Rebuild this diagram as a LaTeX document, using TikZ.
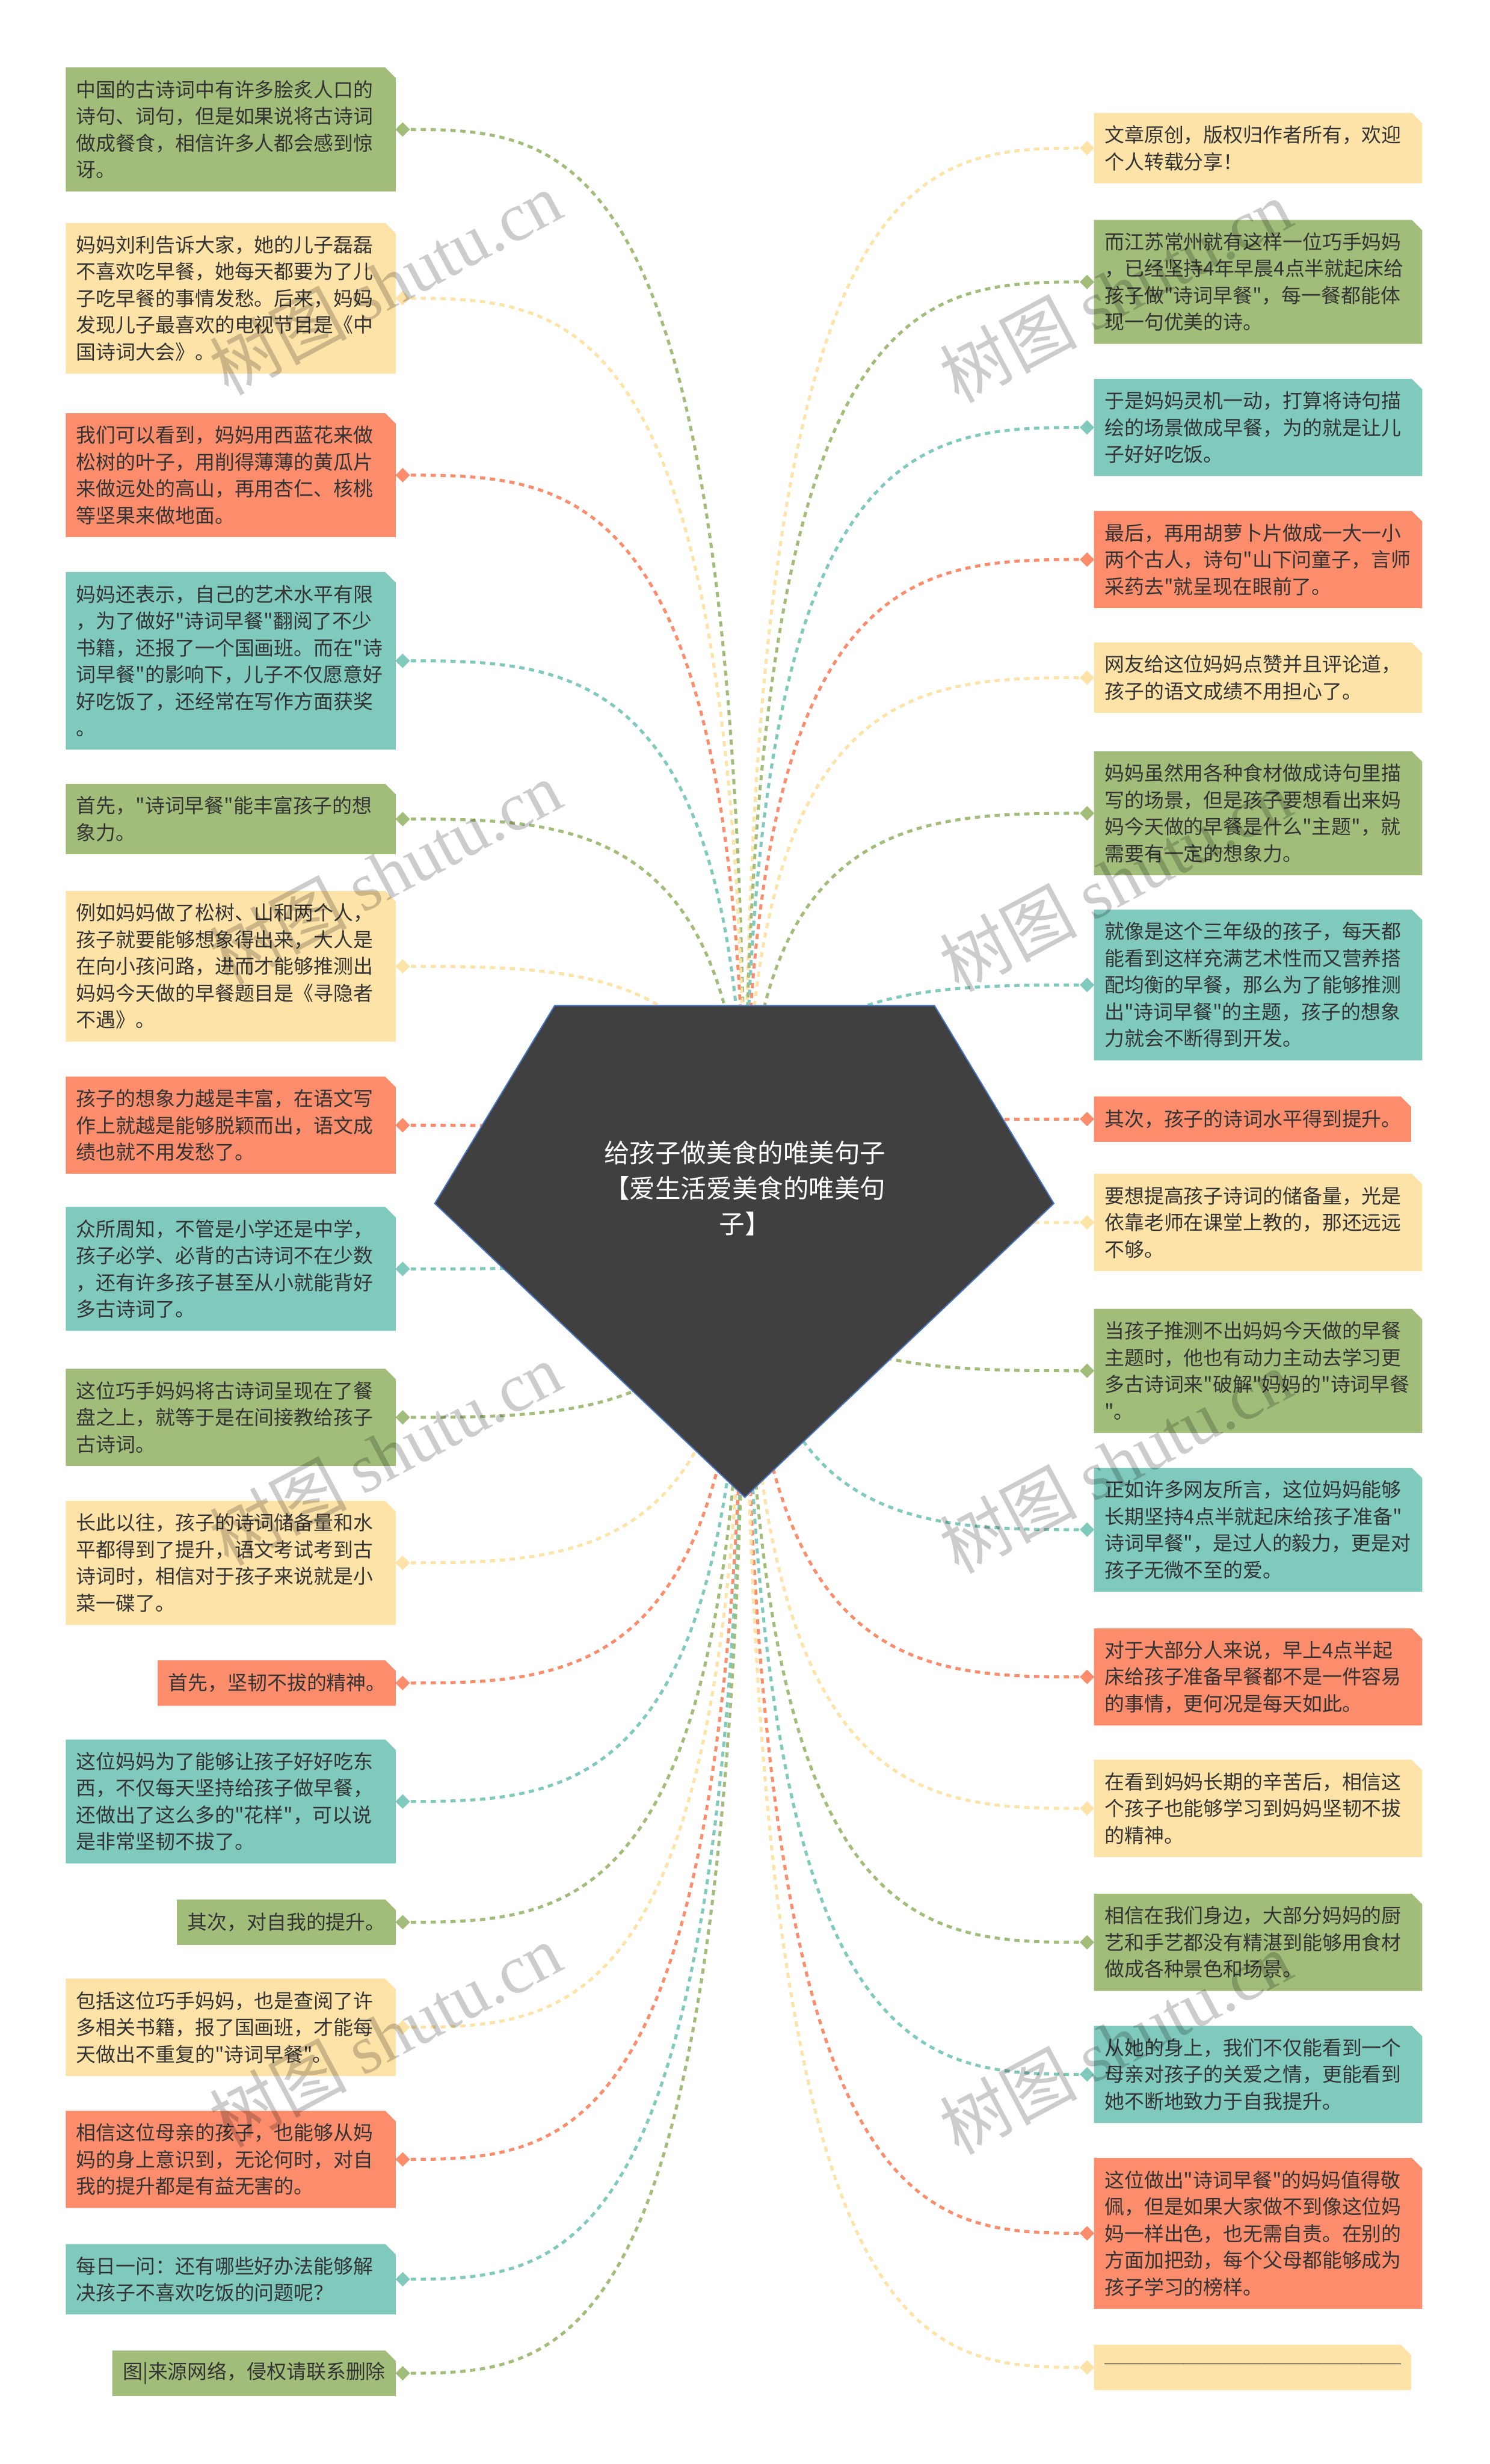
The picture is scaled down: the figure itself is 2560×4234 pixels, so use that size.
\documentclass[tikz,border=0pt]{standalone}
\usepackage{fontspec}
\setmainfont{Noto Sans CJK SC}
\newfontfamily\cjk{Noto Sans CJK SC}
\newfontfamily\wmlatin{Liberation Serif}
\usetikzlibrary{shapes.geometric,calc}
\definecolor{cG}{HTML}{A2BD7A}
\definecolor{cY}{HTML}{FEE3A8}
\definecolor{cO}{HTML}{FB8D6D}
\definecolor{cT}{HTML}{7FCABD}
\definecolor{txt}{HTML}{333333}
\definecolor{pent}{HTML}{404040}
\definecolor{pentline}{HTML}{4A78C8}
\pgfdeclarelayer{back}
\pgfdeclarelayer{bg}
\pgfsetlayers{back,bg,main}
\tikzset{
  boxtext/.style={font=\cjk\fontsize{34}{46}\selectfont, text=txt, align=left, inner sep=0pt, text width=580pt},
  dmd/.style={diamond, minimum width=25pt, minimum height=25pt, inner sep=0pt, draw=none},
  conn/.style={line width=5.2pt, dash pattern=on 9pt off 8pt, dash phase=3pt},
  titletext/.style={font=\cjk\fontsize{44}{61}\selectfont, text=white, align=center, inner sep=0pt},
  wm/.style={font=\cjk\fontsize{118}{118}\selectfont, text=black, text opacity=0.2, inner sep=0pt, rotate=28}
}
% left box: name, x, top, w, h, colour, text
\newcommand\LB[7]{%
  \fill[#6] (#2,#3) -- ({#2+#4-18},#3) -- ({#2+#4},{#3+18}) -- ({#2+#4},{#3+#5}) -- (#2,{#3+#5}) -- cycle;
  \node[boxtext, anchor=west] (#1) at ({#2+18},{#3+#5/2}) {#7};
  \node[dmd, fill=#6] (#1d) at ({#2+#4+12},{#3+#5/2}) {};
  \begin{pgfonlayer}{bg}
  \draw[conn, draw=#6] (#1d.center) .. controls ($(#1d.center)!0.5!(ctr |- #1d.center)$) and (ctr |- #1d.center) .. (ctr);
  \end{pgfonlayer}
}
% right box: name, x, top, w, h, colour, text
\newcommand\RB[7]{%
  \fill[#6] (#2,#3) -- ({#2+#4-18},#3) -- ({#2+#4},{#3+18}) -- ({#2+#4},{#3+#5}) -- (#2,{#3+#5}) -- cycle;
  \node[boxtext, anchor=west] (#1) at ({#2+18},{#3+#5/2}) {#7};
  \node[dmd, fill=#6] (#1d) at ({#2-12},{#3+#5/2}) {};
  \begin{pgfonlayer}{bg}
  \draw[conn, draw=#6] (#1d.center) .. controls ($(#1d.center)!0.5!(ctr |- #1d.center)$) and (ctr |- #1d.center) .. (ctr);
  \end{pgfonlayer}
}
\begin{document}
\begin{tikzpicture}[x=1pt,y=-1pt]
\begin{pgfonlayer}{back}
\fill[white] (0,0) rectangle (2560,4234);
\end{pgfonlayer}
\useasboundingbox (0,0) rectangle (2560,4234);
\coordinate (ctr) at (1280,2050);

% central pentagon
\fill[pent, draw=pentline, line width=2pt] (953,1728) -- (1606,1728) -- (1811,2068) -- (1280,2573) -- (747,2068) -- cycle;
\node[titletext] (root) at (1280,2042) {给孩子做美食的唯美句子\\【爱生活爱美食的唯美句\\子】};

% left column
\LB{L1}{113}{116}{567}{213}{cG}{中国的古诗词中有许多脍炙人口的\\诗句、词句，但是如果说将古诗词\\做成餐食，相信许多人都会感到惊\\讶。}
\LB{L2}{113}{383}{567}{259}{cY}{妈妈刘利告诉大家，她的儿子磊磊\\不喜欢吃早餐，她每天都要为了儿\\子吃早餐的事情发愁。后来，妈妈\\发现儿子最喜欢的电视节目是《中\\国诗词大会》。}
\LB{L3}{113}{710}{567}{213}{cO}{我们可以看到，妈妈用西蓝花来做\\松树的叶子，用削得薄薄的黄瓜片\\来做远处的高山，再用杏仁、核桃\\等坚果来做地面。}
\LB{L4}{113}{983}{567}{305}{cT}{妈妈还表示，自己的艺术水平有限\\，为了做好"诗词早餐"翻阅了不少\\书籍，还报了一个国画班。而在"诗\\词早餐"的影响下，儿子不仅愿意好\\好吃饭了，还经常在写作方面获奖\\。}
\LB{L5}{113}{1347}{567}{121}{cG}{首先，"诗词早餐"能丰富孩子的想\\象力。}
\LB{L6}{113}{1531}{567}{259}{cY}{例如妈妈做了松树、山和两个人，\\孩子就要能够想象得出来，大人是\\在向小孩问路，进而才能够推测出\\妈妈今天做的早餐题目是《寻隐者\\不遇》。}
\LB{L7}{113}{1850}{567}{167}{cO}{孩子的想象力越是丰富，在语文写\\作上就越是能够脱颖而出，语文成\\绩也就不用发愁了。}
\LB{L8}{113}{2074}{567}{213}{cT}{众所周知，不管是小学还是中学，\\孩子必学、必背的古诗词不在少数\\，还有许多孩子甚至从小就能背好\\多古诗词了。}
\LB{L9}{113}{2352}{567}{167}{cG}{这位巧手妈妈将古诗词呈现在了餐\\盘之上，就等于是在间接教给孩子\\古诗词。}
\LB{L10}{113}{2579}{567}{213}{cY}{长此以往，孩子的诗词储备量和水\\平都得到了提升，语文考试考到古\\诗词时，相信对于孩子来说就是小\\菜一碟了。}
\LB{L11}{271}{2853}{409}{78}{cO}{首先，坚韧不拔的精神。}
\LB{L12}{113}{2989}{567}{213}{cT}{这位妈妈为了能够让孩子好好吃东\\西，不仅每天坚持给孩子做早餐，\\还做出了这么多的"花样"，可以说\\是非常坚韧不拔了。}
\LB{L13}{304}{3264}{376}{78}{cG}{其次，对自我的提升。}
\LB{L14}{113}{3400}{567}{167}{cY}{包括这位巧手妈妈，也是查阅了许\\多相关书籍，报了国画班，才能每\\天做出不重复的"诗词早餐"。}
\LB{L15}{113}{3627}{567}{167}{cO}{相信这位母亲的孩子，也能够从妈\\妈的身上意识到，无论何时，对自\\我的提升都是有益无害的。}
\LB{L16}{113}{3856}{567}{121}{cT}{每日一问：还有哪些好办法能够解\\决孩子不喜欢吃饭的问题呢？}
\LB{L17}{193}{4039}{487}{78}{cG}{图|来源网络，侵权请联系删除}

% right column
\RB{R1}{1880}{194}{564}{121}{cY}{文章原创，版权归作者所有，欢迎\\个人转载分享！}
\RB{R2}{1880}{378}{564}{213}{cG}{而江苏常州就有这样一位巧手妈妈\\，已经坚持4年早晨4点半就起床给\\孩子做"诗词早餐"，每一餐都能体\\现一句优美的诗。}
\RB{R3}{1880}{651}{564}{167}{cT}{于是妈妈灵机一动，打算将诗句描\\绘的场景做成早餐，为的就是让儿\\子好好吃饭。}
\RB{R4}{1880}{878}{564}{167}{cO}{最后，再用胡萝卜片做成一大一小\\两个古人，诗句"山下问童子，言师\\采药去"就呈现在眼前了。}
\RB{R5}{1880}{1104}{564}{121}{cY}{网友给这位妈妈点赞并且评论道，\\孩子的语文成绩不用担心了。}
\RB{R6}{1880}{1291}{564}{213}{cG}{妈妈虽然用各种食材做成诗句里描\\写的场景，但是孩子要想看出来妈\\妈今天做的早餐是什么"主题"，就\\需要有一定的想象力。}
\RB{R7}{1880}{1563}{564}{259}{cT}{就像是这个三年级的孩子，每天都\\能看到这样充满艺术性而又营养搭\\配均衡的早餐，那么为了能够推测\\出"诗词早餐"的主题，孩子的想象\\力就会不断得到开发。}
\RB{R8}{1880}{1884}{545}{78}{cO}{其次，孩子的诗词水平得到提升。}
\RB{R9}{1880}{2017}{564}{167}{cY}{要想提高孩子诗词的储备量，光是\\依靠老师在课堂上教的，那还远远\\不够。}
\RB{R10}{1880}{2249}{564}{213}{cG}{当孩子推测不出妈妈今天做的早餐\\主题时，他也有动力主动去学习更\\多古诗词来"破解"妈妈的"诗词早餐\\"。}
\RB{R11}{1880}{2522}{564}{213}{cT}{正如许多网友所言，这位妈妈能够\\长期坚持4点半就起床给孩子准备"\\诗词早餐"，是过人的毅力，更是对\\孩子无微不至的爱。}
\RB{R12}{1880}{2798}{564}{167}{cO}{对于大部分人来说，早上4点半起\\床给孩子准备早餐都不是一件容易\\的事情，更何况是每天如此。}
\RB{R13}{1880}{3024}{564}{167}{cY}{在看到妈妈长期的辛苦后，相信这\\个孩子也能够学习到妈妈坚韧不拔\\的精神。}
\RB{R14}{1880}{3254}{564}{167}{cG}{相信在我们身边，大部分妈妈的厨\\艺和手艺都没有精湛到能够用食材\\做成各种景色和场景。}
\RB{R15}{1880}{3481}{564}{167}{cT}{从她的身上，我们不仅能看到一个\\母亲对孩子的关爱之情，更能看到\\她不断地致力于自我提升。}
\RB{R16}{1880}{3708}{564}{259}{cO}{这位做出"诗词早餐"的妈妈值得敬\\佩，但是如果大家做不到像这位妈\\妈一样出色，也无需自责。在别的\\方面加把劲，每个父母都能够成为\\孩子学习的榜样。}
\RB{R17}{1880}{4029}{545}{78}{cY}{───────────────}

% watermarks
\node[wm] (w1) at (662,486) {树图 {\wmlatin shutu.cn}};
\node[wm] (w2) at (662,1499) {树图 {\wmlatin shutu.cn}};
\node[wm] (w3) at (662,2498) {树图 {\wmlatin shutu.cn}};
\node[wm] (w4) at (662,3497) {树图 {\wmlatin shutu.cn}};
\node[wm] (w5) at (1917,500) {树图 {\wmlatin shutu.cn}};
\node[wm] (w6) at (1917,1512) {树图 {\wmlatin shutu.cn}};
\node[wm] (w7) at (1917,2511) {树图 {\wmlatin shutu.cn}};
\node[wm] (w8) at (1917,3510) {树图 {\wmlatin shutu.cn}};
\end{tikzpicture}
\end{document}
